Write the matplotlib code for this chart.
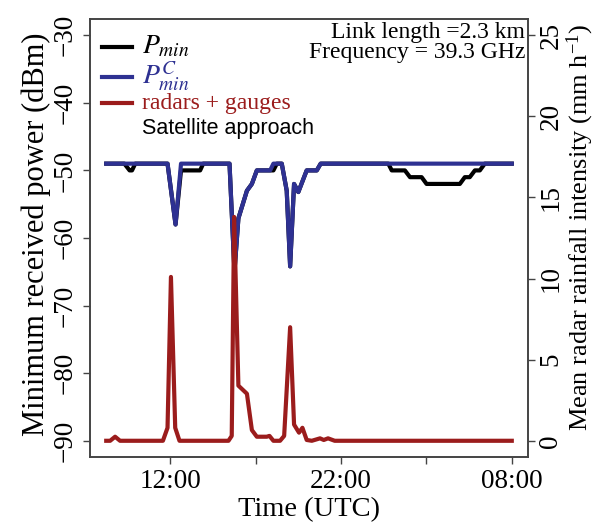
import matplotlib
matplotlib.use("Agg")
import matplotlib.pyplot as plt
from matplotlib.lines import Line2D

# ---- data (time in hours since 00:00 of day 1; >24 means next day) ----
t_black = [8.25, 9.31, 9.62, 9.76, 9.95, 11.84, 12.31, 12.63, 13.75, 13.93, 15.47, 15.76,
           15.99, 16.49, 16.78, 17.07, 18.04, 18.24, 18.53, 18.82, 19.02, 19.25, 19.5,
           19.99, 20.58, 20.81, 24.77, 24.97, 25.74, 26.04, 26.72, 27.01, 28.96, 29.25,
           29.54, 29.84, 30.13, 30.42, 32.0]
p_black = [-49, -49, -50, -50, -49, -49, -58, -50, -50, -49, -49, -65,
           -57.1, -53, -52, -50, -50, -49, -49, -53, -64.2, -52, -53.2,
           -50, -50, -49, -49, -50, -50, -51, -51, -52, -52, -51,
           -51, -50, -50, -49, -49]

t_blue = [8.25, 11.84, 12.31, 12.63, 15.47, 15.76, 15.99, 16.49, 16.78, 17.07, 17.85,
          18.04, 18.53, 18.82, 19.02, 19.25, 19.5, 19.99, 20.58, 20.81, 32.0]
p_blue = [-49, -49, -58, -49, -49, -65, -57.1, -53, -52, -50, -50,
          -49, -49, -53, -64.2, -52, -53.2, -50, -50, -49, -49]

t_rain = [8.25, 8.48, 8.77, 9.06, 11.57, 11.84, 12.04, 12.29, 12.54, 15.41, 15.6, 15.74,
          15.99, 16.49, 16.78, 17.07, 17.65, 17.81, 18.04, 18.43, 18.67, 19.02, 19.25,
          19.54, 19.74, 19.99, 20.29, 20.77, 20.99, 21.24, 21.63, 32.0]
r_rain = [0, 0, 0.25, 0, 0, 0.8, 10.1, 0.8, 0, 0, 0.3, 13.8,
          3.4, 2.9, 0.66, 0.25, 0.25, 0.3, 0, 0, 0.3, 7.0, 1.0,
          0.5, 0.8, 0.05, 0, 0.15, 0.05, 0.15, 0, 0]

x_ticks = [12, 17, 22, 27, 32]
x_ticklabels = ["12:00", "", "22:00", "", "08:00"]
y_left_ticks = [-90, -80, -70, -60, -50, -40, -30]
y_right_ticks = [0, 5, 10, 15, 20, 25]

# ---- style ----
BLUE = "#2e3192"
RED = "#9b1c1c"
SERIF = "Liberation Serif"
plt.rcParams["font.family"] = SERIF
plt.rcParams["mathtext.fontset"] = "stix"

fig = plt.figure(figsize=(5.98, 5.26), dpi=100)
ax = fig.add_axes([90 / 598, 1 - 457 / 526, 438 / 598, 438 / 526])
ax2 = ax.twinx()

ax.plot(t_black, p_black, color="black", lw=3, solid_joinstyle="round", zorder=2)
ax.plot(t_blue, p_blue, color=BLUE, lw=3, solid_joinstyle="round", zorder=3)
ax2.plot(t_rain, r_rain, color=RED, lw=3, solid_joinstyle="round")

x0, x1 = min(t_rain), max(t_rain)
pad = 0.04 * (x1 - x0)
ax.set_xlim(x0 - pad, x1 + pad)
ax.set_ylim(-90 - 2.4, -30 + 2.4)
ax2.set_ylim(0 - 1, 25 + 1)

ax.set_xticks(x_ticks)
ax.set_xticklabels(x_ticklabels)
ax.set_yticks(y_left_ticks)
ax.set_yticklabels([f"\u2212{abs(v)}" for v in y_left_ticks])
ax2.set_yticks(y_right_ticks)
ax2.set_yticklabels([str(v) for v in y_right_ticks])

TICK_FS = 19.5
for a in (ax, ax2):
    for s in a.spines.values():
        s.set_color("#444444")
        s.set_linewidth(1.2)
ax.tick_params(axis="both", direction="out", length=5, width=1.0, color="#444444",
               labelsize=TICK_FS)
ax.tick_params(axis="x", pad=4)
ax.tick_params(axis="y", labelrotation=90, pad=4)
ax2.tick_params(axis="y", direction="out", length=5, width=1.0, color="#444444",
                labelsize=TICK_FS, labelrotation=90, pad=2.5)
for lab in ax.get_yticklabels() + ax2.get_yticklabels():
    lab.set_va("center")

ax.set_xlabel("Time (UTC)", fontsize=20.5, labelpad=2)
ax.set_ylabel("Minimum received power (dBm)", fontsize=22)
ax.yaxis.set_label_coords(-0.09, 0.509)
ax2.set_ylabel(r"Mean radar rainfall intensity (mm h$\mathregular{^{-1}}$)", fontsize=19)
ax2.yaxis.set_label_coords(1.083, 0.525)

# ---- legend (manual) ----
LEG_FS = 17
leg_items = [("black", "$P_{min}$", 0.936, 20), (BLUE, "$P_{min}^{C}$", 0.868, 20),
             (RED, "radars + gauges", 0.808, LEG_FS)]
for col, lab, yy, fs in leg_items:
    ax.add_line(Line2D([0.027, 0.096], [yy, yy], transform=ax.transAxes, color=col, lw=3))
    ax.text(0.119, yy, lab, transform=ax.transAxes, color=col, fontsize=fs,
            va="center", ha="left")
ax.text(0.119, 0.751, "Satellite approach", transform=ax.transAxes, color="black",
        fontsize=15.5, va="center", ha="left", family="Liberation Sans")

ax.text(0.993, 0.970, "Link length =2.3 km", transform=ax.transAxes, fontsize=LEG_FS,
        ha="right", va="center")
ax.text(0.993, 0.924, "Frequency = 39.3 GHz", transform=ax.transAxes, fontsize=LEG_FS,
        ha="right", va="center")

fig.savefig("out.png", dpi=100)
